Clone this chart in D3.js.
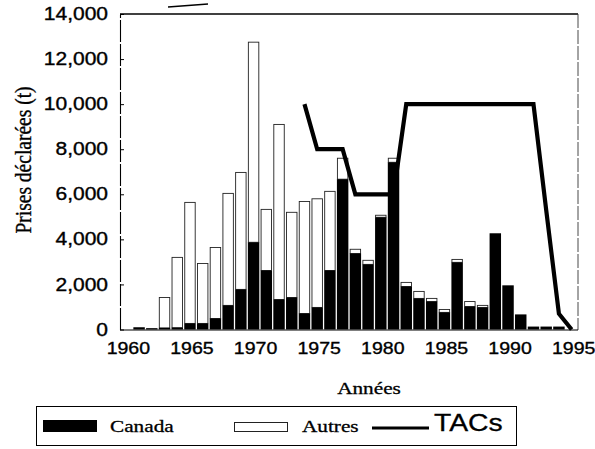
<!DOCTYPE html>
<html>
<head>
<meta charset="utf-8">
<script src="https://cdn.jsdelivr.net/npm/d3@7"></script>
<style>
  html, body { margin: 0; padding: 0; background: #fff; }
  svg { display: block; }
</style>
</head>
<body>
<svg id="chart" width="595" height="449"></svg>
<script>
// ---- data ----
const years = [1960,1961,1962,1963,1964,1965,1966,1967,1968,1969,
               1970,1971,1972,1973,1974,1975,1976,1977,1978,1979,
               1980,1981,1982,1983,1984,1985,1986,1987,1988,1989,
               1990,1991,1992,1993,1994,1995];
const canada = [0,100,60,70,80,270,270,490,1070,1780,
                3870,2620,1330,1420,710,980,2620,6670,3370,2890,
                4980,7420,1910,1380,1240,760,2980,1020,980,4270,
                1960,670,130,130,130,0];
const autres = [0,0,0,1350,3120,5370,2660,3150,4970,5190,
                8880,2710,7770,3780,4970,4820,3510,930,190,180,
                90,180,180,310,140,130,130,220,90,0,
                0,0,0,0,0,0];
const tacYears = [1974,1975,1976,1977,1978,1979,1980,1981,1982,1983,1984,
                  1985,1986,1987,1988,1989,1990,1991,1992,1993,1994,1995];
const tacValues = [10000,8000,8000,8000,6000,6000,6000,6000,10000,10000,10000,
                   10000,10000,10000,10000,10000,10000,10000,10000,5300,700,0];
const yTicks = [0,2000,4000,6000,8000,10000,12000,14000];
const xTicks = [1960,1965,1970,1975,1980,1985,1990,1995];
const yTitle = "Prises déclarées (t)";
const xTitle = "Années";
const legendLabels = ["Canada", "Autres", "TACs"];

// ---- layout ----
const svg = d3.select("#chart");
const pLeft = 120, pRight = 578, pTop = 14, pBottom = 330;
const sans = "'Liberation Sans', Arial, sans-serif";
const serif = "'Liberation Serif', 'Times New Roman', serif";

const x = d3.scaleBand().domain(years).range([pLeft, 578]).paddingInner(0.1).paddingOuter(0.05);
const y = d3.scaleLinear().domain([0, 14000]).range([329.5, pTop]);

const rows = years.map((yr, i) => ({ yr, c: canada[i], a: autres[i] }));

// stray scan mark at the top
svg.append("path").attr("d", d3.line()([[168,7],[208,4]]))
  .attr("stroke", "#000").attr("stroke-width", 1.3).attr("fill", "none");

// Autres (stacked on top of Canada, outlined)
svg.append("g").selectAll("rect").data(rows.filter(d => d.a > 0)).join("rect")
  .attr("x", d => x(d.yr) + 0.5)
  .attr("width", x.bandwidth() - 1)
  .attr("y", d => y(d.c + d.a))
  .attr("height", d => y(d.c) - y(d.c + d.a))
  .attr("fill", "#fff").attr("stroke", "#222").attr("stroke-width", 0.9);

// Canada (black)
svg.append("g").selectAll("rect").data(rows.filter(d => d.c > 0)).join("rect")
  .attr("x", d => x(d.yr))
  .attr("width", x.bandwidth())
  .attr("y", d => y(d.c))
  .attr("height", d => y(0) - y(d.c))
  .attr("fill", "#000");

// TAC line
const tacPts = tacYears.map((yr, i) => [x(yr) + x.bandwidth() / 2, y(tacValues[i])]);
svg.append("path").attr("d", d3.line()(tacPts))
  .attr("fill", "none").attr("stroke", "#000").attr("stroke-width", 4.2)
  .attr("stroke-linejoin", "miter");

// frame
svg.append("line").attr("x1", pLeft).attr("x2", pRight).attr("y1", pTop).attr("y2", pTop)
  .attr("stroke", "#000").attr("stroke-width", 1.6);
svg.append("line").attr("x1", pRight).attr("x2", pRight).attr("y1", pTop).attr("y2", pBottom)
  .attr("stroke", "#333").attr("stroke-width", 0.9).attr("stroke-dasharray", "14,2");
svg.append("line").attr("x1", pLeft).attr("x2", pRight).attr("y1", pBottom).attr("y2", pBottom)
  .attr("stroke", "#000").attr("stroke-width", 1);

// y axis
const yAxis = svg.append("g").attr("transform", `translate(${pLeft},0)`)
  .call(d3.axisLeft(y).tickValues(yTicks).tickSizeInner(-4).tickSizeOuter(0).tickPadding(10)
    .tickFormat(d3.format(",")));
yAxis.select(".domain").attr("stroke", "#000").attr("stroke-width", 1.1).attr("stroke-dasharray", "22,2");
yAxis.selectAll(".tick line").attr("stroke", "#000");
yAxis.selectAll("text")
  .attr("font-family", sans)
  .attr("font-size", 17.5).attr("fill", "#000")
  .attr("stroke", "#000").attr("stroke-width", 0.35)
  .attr("transform", "scale(1.2,1)");

// x axis labels
const xAxis = svg.append("g").attr("transform", `translate(2,${pBottom})`)
  .call(d3.axisBottom(x).tickValues(xTicks).tickSize(0).tickPadding(12));
xAxis.select(".domain").remove();
xAxis.selectAll("text")
  .attr("font-family", sans)
  .attr("font-size", 17).attr("fill", "#000")
  .attr("stroke", "#000").attr("stroke-width", 0.35)
  .attr("transform", "scale(1.15,1)");

// titles
svg.append("text")
  .attr("transform", "translate(31,160) rotate(-90) scale(1,1.15)")
  .attr("text-anchor", "middle")
  .attr("font-family", serif)
  .attr("font-size", 19.5)
  .attr("stroke", "#000").attr("stroke-width", 0.3)
  .text(yTitle);

svg.append("text")
  .attr("transform", "translate(369,394) scale(1.25,1)")
  .attr("text-anchor", "middle")
  .attr("font-family", serif)
  .attr("font-size", 17)
  .attr("stroke", "#000").attr("stroke-width", 0.3)
  .text(xTitle);

// legend
const lg = svg.append("g");
lg.append("rect").attr("x", 36.5).attr("y", 406.5).attr("width", 480).attr("height", 39)
  .attr("fill", "none").attr("stroke", "#000").attr("stroke-width", 1);
lg.append("rect").attr("x", 43).attr("y", 420).attr("width", 54).attr("height", 12).attr("fill", "#000");
lg.append("text").attr("transform", "translate(110,432) scale(1.25,1)")
  .attr("font-family", serif).attr("font-size", 17)
  .attr("stroke", "#000").attr("stroke-width", 0.3)
  .text(legendLabels[0]);
lg.append("rect").attr("x", 234.5).attr("y", 422.5).attr("width", 53).attr("height", 9)
  .attr("fill", "#fff").attr("stroke", "#222").attr("stroke-width", 1);
lg.append("text").attr("transform", "translate(302,432) scale(1.25,1)")
  .attr("font-family", serif).attr("font-size", 17)
  .attr("stroke", "#000").attr("stroke-width", 0.3)
  .text(legendLabels[1]);
lg.append("line").attr("x1", 372).attr("x2", 429).attr("y1", 428).attr("y2", 428)
  .attr("stroke", "#000").attr("stroke-width", 3);
lg.append("text").attr("transform", "translate(434,431) scale(1.18,1)")
  .attr("font-family", sans).attr("font-size", 24)
  .attr("stroke", "#000").attr("stroke-width", 0.3)
  .text(legendLabels[2]);
</script>
</body>
</html>
